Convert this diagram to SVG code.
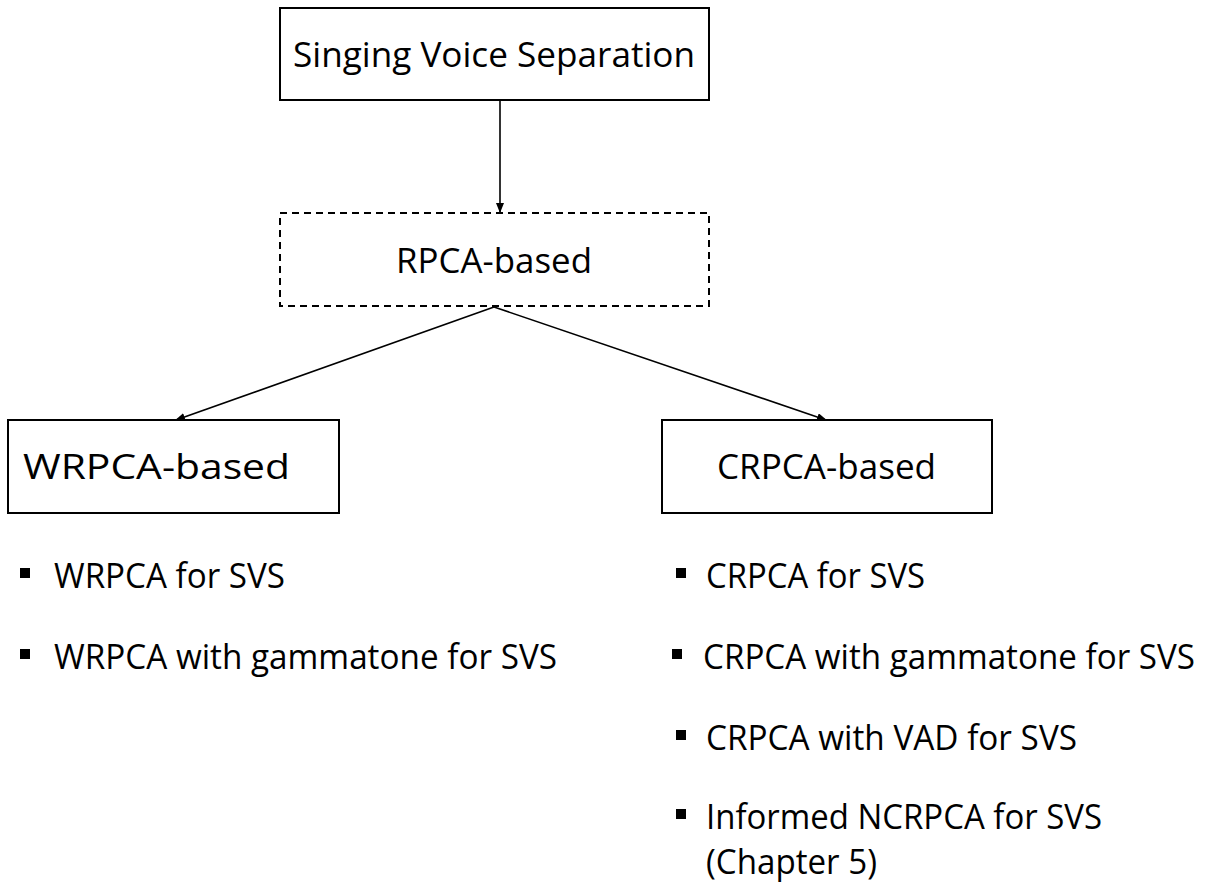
<svg xmlns="http://www.w3.org/2000/svg" width="1206" height="884" viewBox="0 0 1206 884">
  <style>
    .box { fill: #ffffff; stroke: #000000; stroke-width: 2; }
    .dash { stroke-dasharray: 7 5; }
    .lbl { font-family: "Open Sans", "Noto Sans", "Liberation Sans", sans-serif; font-size: 35px; fill: #000000; }
    .item { font-family: "Open Sans", "Noto Sans", "Liberation Sans", sans-serif; font-size: 34px; fill: #000000; }
    .edge { stroke: #000000; stroke-width: 1.6; fill: none; marker-end: url(#arrow); }
    .bullet { fill: #000000; }
  </style>
  <defs>
    <marker id="arrow" markerWidth="10" markerHeight="8" refX="9" refY="4" orient="auto" markerUnits="userSpaceOnUse">
      <path d="M0,0 L10,4 L0,8 Z" fill="#000000"/>
    </marker>
  </defs>
  <rect width="1206" height="884" fill="#ffffff"/>

  <g id="connectors">
    <line class="edge" x1="500" y1="100" x2="500" y2="212"/>
    <line class="edge" x1="494" y1="307" x2="176" y2="420"/>
    <line class="edge" x1="494" y1="307" x2="826" y2="420"/>
  </g>

  <g id="node-svs">
    <rect class="box" x="280" y="8" width="429" height="92"/>
    <text class="lbl" x="293" y="67" textLength="402" lengthAdjust="spacingAndGlyphs">Singing Voice Separation</text>
  </g>

  <g id="node-rpca">
    <rect class="box dash" x="280" y="213" width="429" height="93"/>
    <text class="lbl" x="396" y="273" textLength="196" lengthAdjust="spacingAndGlyphs">RPCA-based</text>
  </g>

  <g id="node-wrpca">
    <rect class="box" x="8" y="420" width="331" height="93"/>
    <text class="lbl" x="23" y="479" textLength="267" lengthAdjust="spacingAndGlyphs">WRPCA-based</text>
  </g>

  <g id="node-crpca">
    <rect class="box" x="662" y="420" width="330" height="93"/>
    <text class="lbl" x="717" y="479" textLength="219" lengthAdjust="spacingAndGlyphs">CRPCA-based</text>
  </g>

  <g id="list-wrpca">
    <rect class="bullet" x="20" y="568" width="10" height="10"/>
    <text class="item" x="54" y="588" textLength="231" lengthAdjust="spacingAndGlyphs">WRPCA for SVS</text>
    <rect class="bullet" x="20" y="649" width="10" height="10"/>
    <text class="item" x="54" y="669" textLength="503" lengthAdjust="spacingAndGlyphs">WRPCA with gammatone for SVS</text>
  </g>

  <g id="list-crpca">
    <rect class="bullet" x="676" y="568" width="10" height="10"/>
    <text class="item" x="706" y="588" textLength="219" lengthAdjust="spacingAndGlyphs">CRPCA for SVS</text>
    <rect class="bullet" x="672" y="649" width="10" height="10"/>
    <text class="item" x="703" y="669" textLength="492" lengthAdjust="spacingAndGlyphs">CRPCA with gammatone for SVS</text>
    <rect class="bullet" x="676" y="730" width="10" height="10"/>
    <text class="item" x="706" y="750" textLength="371" lengthAdjust="spacingAndGlyphs">CRPCA with VAD for SVS</text>
    <rect class="bullet" x="676" y="809" width="10" height="10"/>
    <text class="item" x="706" y="829" textLength="396" lengthAdjust="spacingAndGlyphs">Informed NCRPCA for SVS</text>
    <text class="item" x="706" y="874" textLength="171" lengthAdjust="spacingAndGlyphs">(Chapter 5)</text>
  </g>
</svg>
